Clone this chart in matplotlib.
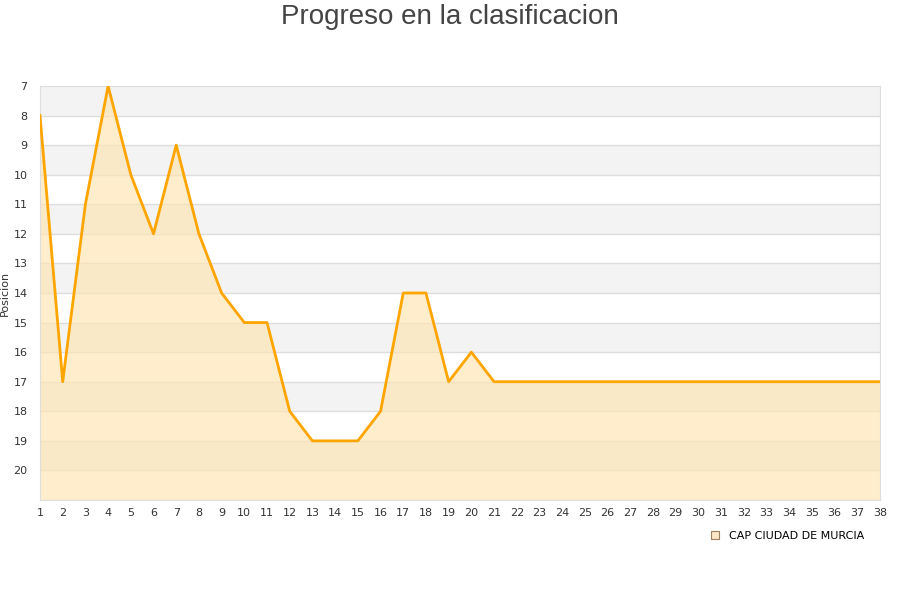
#!/usr/bin/env python3

import matplotlib
matplotlib.use('Agg')
import matplotlib.pyplot as plt
from matplotlib.lines import Line2D

# Jornadas y posicion en la clasificacion
jornadas = list(range(1, 39))
posicion = [8, 17, 11, 7, 10, 12, 9, 12, 14, 15, 15, 18, 19, 19, 19, 18, 14, 14, 17, 16,
            17, 17, 17, 17, 17, 17, 17, 17, 17, 17, 17, 17, 17, 17, 17, 17, 17, 17]
equipo = 'CAP CIUDAD DE MURCIA'
titulo = 'Progreso en la clasificacion'

fig = plt.figure(figsize=(9, 6), dpi=100)
ax = fig.add_axes([40 / 900, 100 / 600, 840 / 900, 414 / 600])

# Bandas alternas gris/blanco
for y0 in range(7, 21, 2):
    ax.axhspan(y0, y0 + 1, color='#f3f3f3', zorder=0, lw=0)
for y in range(8, 21):
    ax.axhline(y, color='#dddddd', lw=1, zorder=1)

ax.fill_between(jornadas, posicion, 21, color='#ffe4b0', alpha=0.65, lw=0, zorder=2)
ax.plot(jornadas, posicion, color='#ffa500', lw=2, zorder=3)

ax.set_xlim(1, 38)
ax.set_ylim(21, 7)
ax.set_xticks(jornadas)
ax.set_yticks(range(7, 21))
ax.tick_params(length=0, labelsize=8, colors='#333333', pad=6)
ax.tick_params(axis='y', pad=9)
for s in ax.spines.values():
    s.set_color('#dddddd')

ax.set_ylabel('Posicion', fontsize=8, color='#333333')
ax.yaxis.set_label_coords(-30 / 840, 0.5)
fig.text(0.5, 1 - 4 / 600, titulo, ha='center', va='top', fontsize=20, color='#444444',
         family='Liberation Sans')

handle = Line2D([], [], marker='s', ls='none', markersize=6,
                markerfacecolor='#fde7c4', markeredgecolor='#a08060', markeredgewidth=0.8)
fig.legend([handle], [equipo], loc='center', bbox_to_anchor=(784 / 900, 1 - 536 / 600),
           frameon=False, fontsize=8, handletextpad=0.3)

fig.savefig('out.png', dpi=100)
